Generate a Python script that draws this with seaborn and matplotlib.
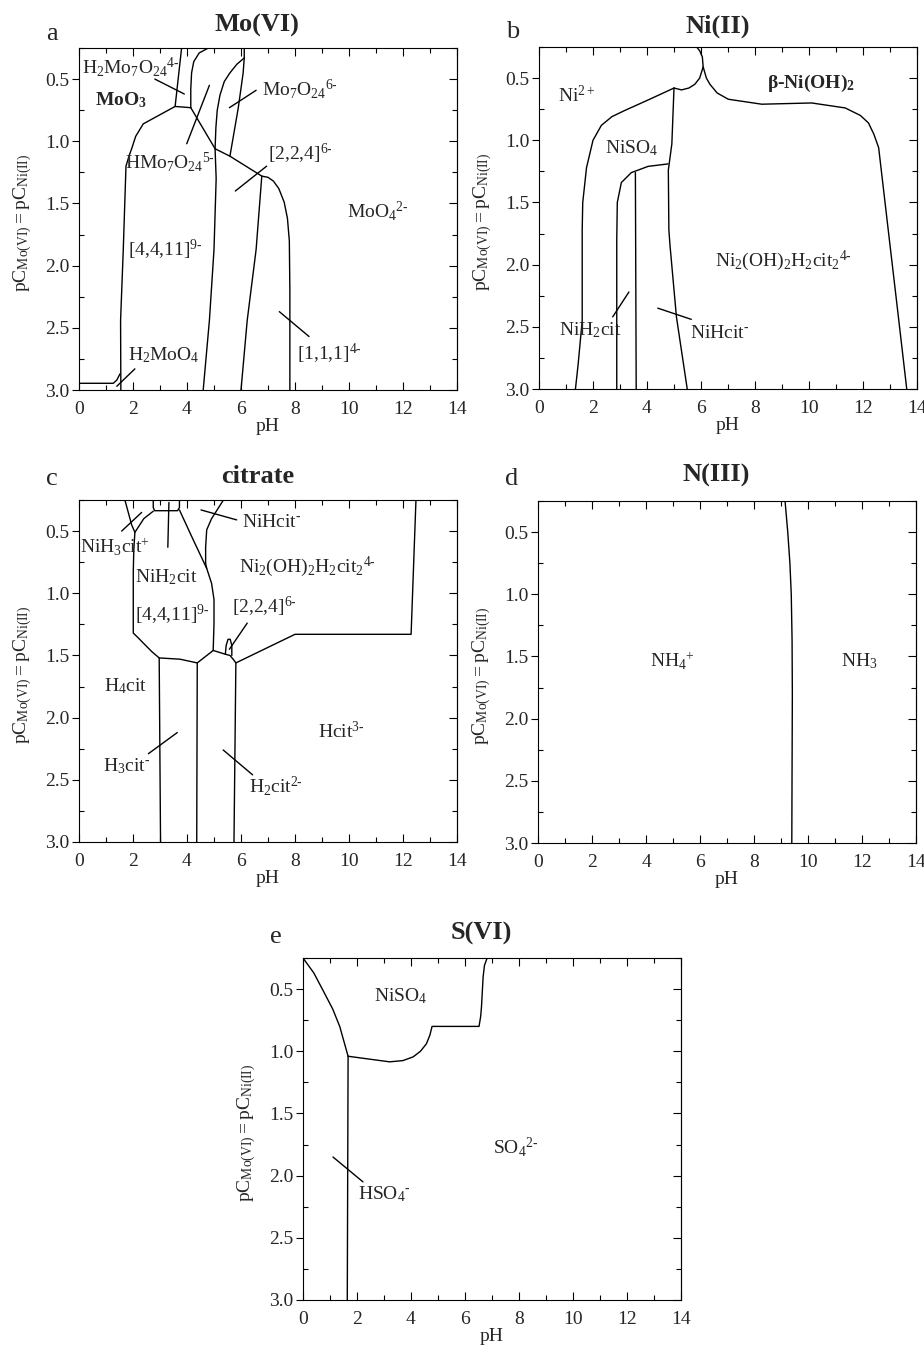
import seaborn as sns
import matplotlib.pyplot as plt
from matplotlib.ticker import MultipleLocator, FormatStrFormatter

# ---------------------------------------------------------------
# boundary lines, as (pH, pC) point lists
# ---------------------------------------------------------------

# a  Mo(VI)
a_h2moo4_ph = [0.0, 1.27, 1.40, 1.52]
a_h2moo4_pc = [2.946, 2.946, 2.92, 2.87]
a_left_ph = [1.55, 1.54, 1.64, 1.74, 1.85, 1.95, 2.10, 2.38, 3.56, 4.14]
a_left_pc = [3.00, 2.44, 1.87, 1.20, 1.12, 1.06, 0.96, 0.86, 0.72, 0.73]
a_h2mo7_l_ph = [3.56, 3.80]
a_h2mo7_l_pc = [0.72, 0.25]
a_h2mo7_r_ph = [4.14, 4.14, 4.17, 4.25, 4.45, 4.79]
a_h2mo7_r_pc = [0.73, 0.58, 0.45, 0.36, 0.29, 0.25]
a_diag_ph = [4.14, 5.04, 5.59, 6.77, 7.00, 7.20, 7.40, 7.60, 7.72, 7.79, 7.81, 7.81]
a_diag_pc = [0.73, 1.06, 1.12, 1.28, 1.29, 1.32, 1.38, 1.49, 1.62, 1.80, 2.20, 3.00]
a_mid_ph = [5.04, 5.08, 5.00, 4.83, 4.60]
a_mid_pc = [1.06, 1.30, 1.87, 2.44, 3.00]
a_224_ph = [6.77, 6.56, 6.23, 6.00]
a_224_pc = [1.28, 1.87, 2.44, 3.00]
a_hmo7_ph = [5.04, 5.07, 5.12, 5.22, 5.38, 5.59, 5.85, 6.12]
a_hmo7_pc = [1.06, 0.89, 0.75, 0.63, 0.52, 0.45, 0.38, 0.33]
a_mo7_ph = [5.59, 5.90, 6.08, 6.12, 6.12]
a_mo7_pc = [1.12, 0.73, 0.45, 0.33, 0.25]
a_leader_ph = [[2.81, 3.90], [3.99, 4.83], [6.56, 5.57], [6.95, 5.79], [7.42, 8.52], [1.40, 2.07]]
a_leader_pc = [[0.50, 0.62], [1.02, 0.55], [0.59, 0.73], [1.20, 1.40], [2.37, 2.57], [2.97, 2.83]]

# b  Ni(II)
b_outer_ph = [1.35, 1.45, 1.60, 1.60, 1.62, 1.76, 2.00, 2.31, 2.70, 3.18, 4.00, 5.00]
b_outer_pc = [3.00, 2.80, 2.45, 1.72, 1.50, 1.22, 1.00, 0.88, 0.81, 0.76, 0.68, 0.58]
b_bump_ph = [5.00, 5.28, 5.55, 5.77, 5.95, 6.08, 6.05, 5.95, 5.84]
b_bump_pc = [0.58, 0.595, 0.58, 0.55, 0.50, 0.41, 0.33, 0.28, 0.25]
b_right_ph = [6.08, 6.20, 6.33, 6.60, 7.01, 8.25, 10.1, 11.34, 11.9, 12.2, 12.4, 12.58, 12.95, 13.3, 13.62]
b_right_pc = [0.41, 0.50, 0.55, 0.62, 0.67, 0.71, 0.70, 0.74, 0.80, 0.86, 0.95, 1.06, 1.75, 2.40, 3.00]
b_inner_ph = [5.00, 4.92, 4.79, 4.81, 4.85, 5.09, 5.49]
b_inner_pc = [0.58, 1.03, 1.24, 1.72, 1.84, 2.42, 3.00]
b_niso4_ph = [2.88, 2.88, 2.90, 3.05, 3.42, 4.04, 4.78]
b_niso4_pc = [3.00, 1.80, 1.50, 1.34, 1.26, 1.21, 1.19]
b_vert_ph = [3.57, 3.60]
b_vert_pc = [1.26, 3.00]
b_leader_ph = [[2.73, 3.33], [4.40, 5.64]]
b_leader_pc = [[2.42, 2.22], [2.35, 2.44]]

# c  citrate
c_main_ph = [1.70, 1.95, 2.07, 2.03, 2.01, 2.01, 2.20, 2.38, 2.70, 2.97, 3.74, 4.38,
             4.97, 5.42, 5.59, 5.71, 5.81, 8.00, 12.30, 12.48]
c_main_pc = [0.25, 0.45, 0.51, 0.65, 0.83, 1.32, 1.36, 1.40, 1.47, 1.52, 1.53, 1.56,
             1.46, 1.49, 1.50, 1.53, 1.56, 1.33, 1.33, 0.25]
c_nih3_ph = [2.07, 2.40, 2.75]
c_nih3_pc = [0.51, 0.40, 0.34]
c_box_ph = [2.75, 2.75, 2.80, 3.65, 3.72, 3.72]
c_box_pc = [0.25, 0.31, 0.336, 0.336, 0.31, 0.25]
c_nih2_ph = [3.72, 4.23, 4.73, 4.91, 5.00, 5.00, 4.97]
c_nih2_pc = [0.33, 0.57, 0.80, 0.92, 1.05, 1.24, 1.46]
c_nihcit_ph = [5.35, 4.91, 4.73, 4.69, 4.69, 4.73]
c_nihcit_pc = [0.25, 0.40, 0.49, 0.63, 0.76, 0.80]
c_loop_ph = [5.42, 5.45, 5.52, 5.60, 5.66, 5.66]
c_loop_pc = [1.49, 1.42, 1.37, 1.37, 1.42, 1.50]
c_v1_ph = [2.97, 3.02]
c_v1_pc = [1.52, 3.00]
c_v2_ph = [4.38, 4.36]
c_v2_pc = [1.56, 3.00]
c_v3_ph = [5.81, 5.74]
c_v3_pc = [1.56, 3.00]
c_leader_ph = [[2.57, 3.64], [5.34, 6.43], [4.52, 5.84], [1.58, 2.32], [3.33, 3.29], [6.23, 5.57]]
c_leader_pc = [[2.29, 2.12], [2.26, 2.46], [0.33, 0.41], [0.50, 0.35], [0.27, 0.63], [1.24, 1.45]]

# d  N(III)
d_line_ph = [9.15, 9.25, 9.33, 9.38, 9.41, 9.42, 9.40]
d_line_pc = [0.25, 0.50, 0.75, 1.00, 1.37, 1.80, 3.00]

# e  S(VI)
e_top_ph = [0.00, 0.40, 0.74, 1.10, 1.36, 1.67]
e_top_pc = [0.25, 0.37, 0.51, 0.66, 0.80, 1.04]
e_vert_ph = [1.67, 1.64]
e_vert_pc = [1.04, 3.00]
e_bot_ph = [1.67, 2.35, 3.21, 3.70, 4.08, 4.35, 4.57, 4.70, 4.78, 6.52, 6.58, 6.61, 6.67, 6.72, 6.82]
e_bot_pc = [1.04, 1.06, 1.085, 1.075, 1.045, 1.00, 0.94, 0.87, 0.80, 0.80, 0.72, 0.645, 0.405, 0.31, 0.25]
e_leader_ph = [[1.11, 2.22]]
e_leader_pc = [[1.85, 2.05]]

# species labels: text, pH (left edge), pC (centre), bold   (\u2010 = short hyphen for charges)
a_labels = [
    (r'$\mathrm{H_2Mo_7O_{24}{}^{4‐}}$', 0.10, 0.40, False),
    (r'MoO$_\mathbf{3}$', 0.59, 0.67, True),
    (r'$\mathrm{HMo_7O_{24}{}^{5‐}}$', 1.70, 1.17, False),
    (r'$\mathrm{Mo_7O_{24}{}^{6‐}}$', 6.77, 0.58, False),
    (r'$\mathrm{[2{,}2{,}4]^{6‐}}$', 7.00, 1.10, False),
    (r'$\mathrm{MoO_4{}^{2‐}}$', 9.91, 1.56, False),
    (r'$\mathrm{[4{,}4{,}11]^{9‐}}$', 1.83, 1.87, False),
    (r'$\mathrm{[1{,}1{,}1]^{4‐}}$', 8.06, 2.71, False),
    (r'$\mathrm{H_2MoO_4}$', 1.83, 2.72, False),
]
b_labels = [
    (r'$\mathrm{Ni^{2+}}$', 0.70, 0.64, False),
    (r'β-Ni(OH)$_\mathbf{2}$', 8.43, 0.54, True),
    (r'$\mathrm{NiSO_4}$', 2.43, 1.06, False),
    (r'$\mathrm{Ni_2(OH)_2H_2cit_2{}^{4‐}}$', 6.52, 1.97, False),
    (r'$\mathrm{NiH_2cit}$', 0.75, 2.53, False),
    (r'$\mathrm{NiHcit^{‐}}$', 5.58, 2.55, False),
]
c_labels = [
    (r'$\mathrm{NiH_3cit^{+}}$', 0.04, 0.63, False),
    (r'$\mathrm{NiHcit^{‐}}$', 6.02, 0.43, False),
    (r'$\mathrm{NiH_2cit}$', 2.07, 0.87, False),
    (r'$\mathrm{Ni_2(OH)_2H_2cit_2{}^{4‐}}$', 5.94, 0.79, False),
    (r'$\mathrm{[4{,}4{,}11]^{9‐}}$', 2.07, 1.17, False),
    (r'$\mathrm{[2{,}2{,}4]^{6‐}}$', 5.65, 1.11, False),
    (r'$\mathrm{H_4cit}$', 0.93, 1.75, False),
    (r'$\mathrm{H_3cit^{‐}}$', 0.88, 2.39, False),
    (r'$\mathrm{Hcit^{3‐}}$', 8.86, 2.11, False),
    (r'$\mathrm{H_2cit^{2‐}}$', 6.31, 2.55, False),
]
d_labels = [
    (r'$\mathrm{NH_4{}^{+}}$', 4.16, 1.54, False),
    (r'$\mathrm{NH_3}$', 11.24, 1.54, False),
]
e_labels = [
    (r'$\mathrm{NiSO_4}$', 2.62, 0.56, False),
    (r'$\mathrm{SO_4{}^{2‐}}$', 7.04, 1.77, False),
    (r'$\mathrm{HSO_4{}^{‐}}$', 2.04, 2.15, False),
]

titles = ['Mo(VI)', 'Ni(II)', 'citrate', 'N(III)', 'S(VI)']
letters = ['a', 'b', 'c', 'd', 'e']

# ---------------------------------------------------------------
sns.set_theme(style='ticks')
plt.rcParams['font.family'] = ['Liberation Serif', 'DejaVu Serif']
plt.rcParams['mathtext.fontset'] = 'custom'
plt.rcParams['mathtext.rm'] = 'Liberation Serif'
plt.rcParams['mathtext.it'] = 'Liberation Serif:italic'
plt.rcParams['mathtext.bf'] = 'Liberation Serif:bold'

LW = 1.0
FS = 14

fig = plt.figure(figsize=(9.24, 13.53), dpi=100)
W, H = 378 / 924, 342 / 1353
axes = [
    fig.add_axes([79 / 924, 1 - 390 / 1353, W, H]),
    fig.add_axes([539 / 924, 1 - 389 / 1353, W, H]),
    fig.add_axes([79 / 924, 1 - 842 / 1353, W, H]),
    fig.add_axes([538 / 924, 1 - 843 / 1353, W, H]),
    fig.add_axes([303 / 924, 1 - 1300 / 1353, W, H]),
]
title_y = [1.048, 1.043, 1.05, 1.058, 1.055]
letter_y = [1.024, 1.027, 1.044, 1.047, 1.043]


def draw(ax, ph, pc):
    sns.lineplot(x=ph, y=pc, sort=False, estimator=None, color='black',
                 linewidth=LW, ax=ax)


def style(ax):
    ax.set_xlim(0, 14)
    ax.set_ylim(3.0, 0.25)
    ax.xaxis.set_major_locator(MultipleLocator(2))
    ax.xaxis.set_minor_locator(MultipleLocator(1))
    ax.yaxis.set_major_locator(MultipleLocator(0.5))
    ax.yaxis.set_minor_locator(MultipleLocator(0.25))
    ax.yaxis.set_major_formatter(FormatStrFormatter('%.1f'))
    ax.tick_params(axis='x', which='both', direction='in', top=True,
                   labelsize=FS, pad=8, width=0.8, color='black')
    ax.tick_params(axis='x', which='major', length=6)
    ax.tick_params(axis='x', which='minor', length=3.5)
    ax.tick_params(axis='y', which='major', direction='out', length=5,
                   right=False, labelsize=FS, pad=2, width=0.8, color='black')
    ax.tick_params(axis='y', which='minor', direction='in', length=3.5,
                   right=False, width=0.8, color='black')
    sec = ax.secondary_yaxis('right')
    sec.yaxis.set_major_locator(MultipleLocator(0.5))
    sec.yaxis.set_minor_locator(MultipleLocator(0.25))
    sec.tick_params(which='both', direction='in', labelright=False, width=0.8, color='black')
    sec.tick_params(which='major', length=6)
    sec.tick_params(which='minor', length=3.5)
    sec.spines['right'].set_linewidth(0.8)
    for s in ax.spines.values():
        s.set_linewidth(0.8)
        s.set_color('black')
    ax.set_xlabel('pH', fontsize=FS, labelpad=0)
    ax.set_ylabel(r'$\mathrm{pC_{Mo(VI)} = pC_{Ni(II)}}$', fontsize=FS)
    ax.yaxis.set_label_coords(-0.12, 0.49)


panel_lines = [
    [(a_h2moo4_ph, a_h2moo4_pc), (a_left_ph, a_left_pc), (a_h2mo7_l_ph, a_h2mo7_l_pc),
     (a_h2mo7_r_ph, a_h2mo7_r_pc), (a_diag_ph, a_diag_pc), (a_mid_ph, a_mid_pc),
     (a_224_ph, a_224_pc), (a_hmo7_ph, a_hmo7_pc), (a_mo7_ph, a_mo7_pc)]
    + list(zip(a_leader_ph, a_leader_pc)),
    [(b_outer_ph, b_outer_pc), (b_bump_ph, b_bump_pc), (b_right_ph, b_right_pc),
     (b_inner_ph, b_inner_pc), (b_niso4_ph, b_niso4_pc), (b_vert_ph, b_vert_pc)]
    + list(zip(b_leader_ph, b_leader_pc)),
    [(c_main_ph, c_main_pc), (c_nih3_ph, c_nih3_pc), (c_box_ph, c_box_pc),
     (c_nih2_ph, c_nih2_pc), (c_nihcit_ph, c_nihcit_pc), (c_loop_ph, c_loop_pc),
     (c_v1_ph, c_v1_pc), (c_v2_ph, c_v2_pc), (c_v3_ph, c_v3_pc)]
    + list(zip(c_leader_ph, c_leader_pc)),
    [(d_line_ph, d_line_pc)],
    [(e_top_ph, e_top_pc), (e_vert_ph, e_vert_pc), (e_bot_ph, e_bot_pc)]
    + list(zip(e_leader_ph, e_leader_pc)),
]
panel_labels = [a_labels, b_labels, c_labels, d_labels, e_labels]

for i, ax in enumerate(axes):
    for ph, pc in panel_lines[i]:
        draw(ax, ph, pc)
    for txt, x, y, bold in panel_labels[i]:
        ax.text(x, y, txt, ha='left', va='center', fontsize=FS,
                fontweight='bold' if bold else 'normal')
    style(ax)
    ax.text(0.472, title_y[i], titles[i], transform=ax.transAxes, ha='center',
            va='baseline', fontsize=19, fontweight='bold')
    ax.text(-0.071, letter_y[i], letters[i], transform=ax.transAxes, ha='center',
            va='baseline', fontsize=19)

fig.savefig('out.png', dpi=100)
plt.close(fig)
